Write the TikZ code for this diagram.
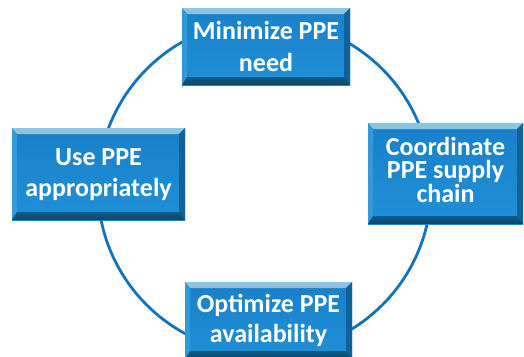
\documentclass[tikz,border=0pt]{standalone}
\usepackage{fontspec}
\setmainfont{Carlito}
\definecolor{ringblue}{HTML}{1272BA}
\definecolor{boxtop}{HTML}{1880C8}
\definecolor{boxmid}{HTML}{1C88D0}
\definecolor{boxbot}{HTML}{2090D8}
\definecolor{bevlight}{HTML}{8CC6E2}
\definecolor{bevlight2}{HTML}{4FA8DC}
\definecolor{bevleft}{HTML}{3399D8}
\definecolor{bevdark}{HTML}{0A4668}
\definecolor{bevdark2}{HTML}{0F5C8A}
\definecolor{bevright}{HTML}{11619A}
\begin{document}
\begin{tikzpicture}[x=1pt,y=-1pt,
  ppebox/.style={rectangle, inner sep=0pt, text=white, align=center,
    font=\bfseries\fontsize{26}{32}\selectfont,
    text height=49.5pt, text depth=0pt,
    top color=boxtop, bottom color=boxbot, middle color=boxmid,
    path picture={
      \shade[top color=bevlight, bottom color=bevlight2] (path picture bounding box.north west) -- (path picture bounding box.north east)
        -- ([shift={(-6pt,-6pt)}]path picture bounding box.north east) -- ([shift={(5pt,-6pt)}]path picture bounding box.north west) -- cycle;
      \fill[bevleft] (path picture bounding box.north west) -- ([shift={(5pt,-6pt)}]path picture bounding box.north west)
        -- ([shift={(5pt,8pt)}]path picture bounding box.south west) -- (path picture bounding box.south west) -- cycle;
      \fill[bevright] (path picture bounding box.north east) -- ([shift={(-6pt,-6pt)}]path picture bounding box.north east)
        -- ([shift={(-6pt,8pt)}]path picture bounding box.south east) -- (path picture bounding box.south east) -- cycle;
      \shade[top color=bevdark2, bottom color=bevdark] (path picture bounding box.south west) -- ([shift={(5pt,8pt)}]path picture bounding box.south west)
        -- ([shift={(-6pt,8pt)}]path picture bounding box.south east) -- (path picture bounding box.south east) -- cycle;
    }},
  ring/.style={draw=ringblue, line width=2.8pt}
]
\useasboundingbox (0,0) rectangle (524,356);
\clip (0,0) rectangle (524,356);
\node[circle, ring, minimum size=333.4pt, inner sep=0pt] (ring) at (264.5,187) {};
\node[ppebox, minimum width=168pt, minimum height=77pt] (need) at (266,46.5) {Minimize PPE\\need};
\node[ppebox, minimum width=155pt, minimum height=101pt, font=\bfseries\fontsize{26}{23.5}\selectfont, text height=63.5pt, text depth=6pt] (supply) at (445.5,173.5) {Coordinate\\PPE supply\\chain};
\node[ppebox, minimum width=173pt, minimum height=92pt, font=\bfseries\fontsize{26}{31}\selectfont, text height=48pt, text depth=4pt] (use) at (98.5,174) {Use PPE\\appropriately};
\node[ppebox, minimum width=167pt, minimum height=77pt, font=\bfseries\fontsize{26}{30}\selectfont, text height=47.5pt, text depth=4pt] (avail) at (268.5,320.5) {Optimize PPE\\availability};
\end{tikzpicture}
\end{document}
